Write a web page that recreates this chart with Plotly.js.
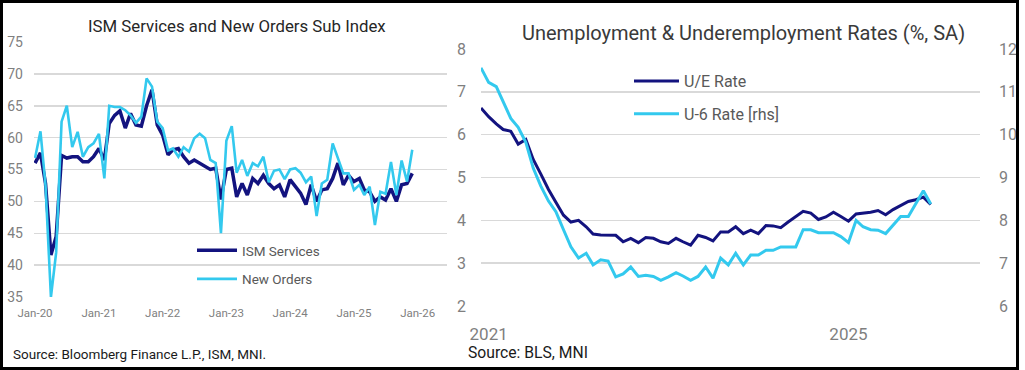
<!DOCTYPE html>
<html><head><meta charset="utf-8">
<script src="https://cdn.plot.ly/plotly-3.0.1.min.js"></script>
<style>html,body{margin:0;padding:0;background:#fff;}#chart{width:1025px;height:370px;}</style>
</head><body><div id="chart"></div>
<script>
// ---------- Left panel: ISM Services and New Orders (monthly, Jan-2020 .. Dec-2025)
const ismStart = '2020-01';
const ismServices = [
  56.0, 57.6, 52.8, 41.6, 44.5, 57.2, 56.8, 57.0, 57.0, 56.2, 56.2, 57.0,
  58.3, 56.5, 62.2, 63.5, 64.2, 61.5, 63.8, 62.0, 61.8, 65.0, 67.5, 62.0,
  60.4, 57.3, 58.1, 58.3, 57.0, 56.0, 56.5, 56.0, 55.5, 55.0, 55.2, 50.3,
  55.0, 55.2, 50.7, 52.8, 51.0, 53.6, 52.8, 54.1, 52.8, 52.0, 52.6, 50.7,
  53.4, 52.3, 51.3, 49.5, 52.6, 50.0, 51.8, 52.0, 53.6, 56.0, 52.6, 54.1,
  53.1, 53.6, 51.8, 51.5, 50.0, 50.7, 50.2, 52.0, 50.0, 52.6, 52.8, 54.4
];
const newOrders = [
  56.8, 61.0, 52.5, 35.0, 42.0, 62.5, 65.0, 58.5, 60.9, 57.0, 58.5, 59.1,
  60.6, 53.6, 65.0, 64.8, 64.8, 64.3, 63.5, 62.3, 63.3, 69.3, 68.0, 62.5,
  61.5, 58.0, 58.3, 57.0, 58.5, 57.8, 59.9, 60.6, 59.9, 56.5, 56.0, 45.0,
  59.5, 61.8, 54.5, 56.5, 54.0, 56.0, 55.5, 57.0, 53.0, 54.8, 55.0, 53.5,
  55.0, 55.2, 54.5, 53.0, 53.9, 47.7, 52.8, 53.4, 59.1, 56.8, 54.4, 54.4,
  51.8, 52.6, 51.0, 52.3, 46.3, 51.5, 51.2, 56.2, 51.0, 56.4, 53.1, 58.1
];
const ismTickVals = ['2020-01-01','2021-01-01','2022-01-01','2023-01-01','2024-01-01','2025-01-01','2026-01-01'];
const ismTickText = ['Jan-20','Jan-21','Jan-22','Jan-23','Jan-24','Jan-25','Jan-26'];

// ---------- Right panel: Unemployment & U-6 (monthly, Dec-2020 .. Dec-2025)
const unempStart = '2020-12';
const ueRate = [
  6.62, 6.42, 6.25, 6.12, 6.08, 5.78, 5.89, 5.42, 5.08, 4.72, 4.42, 4.12, 3.96,
  4.00, 3.85, 3.68, 3.66, 3.65, 3.65, 3.50, 3.58, 3.48, 3.60, 3.58, 3.50,
  3.46, 3.58, 3.50, 3.42, 3.65, 3.60, 3.52, 3.73, 3.73, 3.85, 3.69, 3.77,
  3.69, 3.88, 3.87, 3.83, 3.96, 4.08, 4.21, 4.17, 4.02, 4.08, 4.19, 4.09,
  3.98, 4.15, 4.17, 4.19, 4.23, 4.13, 4.25, 4.35, 4.44, 4.48, 4.54, 4.37
];
const u6Rate = [
  11.56, 11.22, 11.12, 10.78, 10.38, 10.17, 9.82, 9.22, 8.80, 8.45, 8.20, 7.78, 7.38,
  7.12, 7.23, 6.96, 7.08, 7.05, 6.68, 6.75, 6.91, 6.69, 6.72, 6.69, 6.60,
  6.68, 6.78, 6.70, 6.60, 6.69, 6.91, 6.65, 7.12, 6.96, 7.23, 6.96, 7.19,
  7.19, 7.30, 7.30, 7.38, 7.38, 7.38, 7.78, 7.78, 7.71, 7.71, 7.71, 7.62,
  7.48, 8.00, 7.85, 7.78, 7.77, 7.69, 7.88, 8.09, 8.09, 8.38, 8.69, 8.38
];
const unempTickVals = ['2021-01-01','2025-01-01'];
const unempTickText = ['2021','2025'];

function monthSeq(start, n) {
  const [y, m] = start.split('-').map(Number);
  const out = [];
  for (let i = 0; i < n; i++) {
    const t = (m - 1) + i;
    out.push((y + Math.floor(t / 12)) + '-' + String(t % 12 + 1).padStart(2, '0') + '-01');
  }
  return out;
}

const W = 1025, H = 370;
const fx = p => p / W;
const fy = p => 1 - p / H;
const DARK = '#13137f', LIGHT = '#33c9ee';
const FONT = 'Roboto, "Liberation Sans", sans-serif';

const ismDates = monthSeq(ismStart, ismServices.length);
const unDates = monthSeq(unempStart, ueRate.length);

const traces = [
  {x: ismDates, y: ismServices, name: 'ISM Services', type: 'scatter', mode: 'lines',
   line: {color: DARK, width: 3.5}, xaxis: 'x', yaxis: 'y', legend: 'legend', legendgroup: 'a'},
  {x: ismDates, y: newOrders, name: 'New Orders', type: 'scatter', mode: 'lines',
   line: {color: LIGHT, width: 2.6}, xaxis: 'x', yaxis: 'y', legend: 'legend', legendgroup: 'b'},
  {x: unDates, y: ueRate, name: 'U/E Rate', type: 'scatter', mode: 'lines',
   line: {color: DARK, width: 3}, xaxis: 'x2', yaxis: 'y2', legend: 'legend2', legendgroup: 'c'},
  {x: unDates, y: u6Rate, name: 'U-6 Rate [rhs]', type: 'scatter', mode: 'lines',
   line: {color: LIGHT, width: 3}, xaxis: 'x2', yaxis: 'y3', legend: 'legend2', legendgroup: 'd'}
];

const grid = {showgrid: true, gridcolor: '#d9d9d9', gridwidth: 1.5, zeroline: false, showline: false, ticks: '', fixedrange: true};
const xbase = {type: 'date', showgrid: false, zeroline: false, showline: false, ticks: '', fixedrange: true, tickmode: 'array'};

const layout = {
  width: W, height: H,
  margin: {l: 0, r: 0, t: 0, b: 0},
  paper_bgcolor: '#ffffff', plot_bgcolor: 'rgba(0,0,0,0)',
  font: {family: FONT, color: '#7f7f7f'},
  showlegend: true,
  xaxis: Object.assign({}, xbase, {domain: [fx(34), fx(447)], anchor: 'y',
    range: ['2019-12-26', '2026-06-18'], tickvals: ismTickVals, ticktext: ismTickText,
    tickfont: {size: 11.5, color: '#808080'}, ticklabelstandoff: 7}),
  yaxis: Object.assign({}, grid, {domain: [fy(297), fy(42)], anchor: 'x', range: [35, 75],
    tick0: 35, dtick: 5, tickfont: {size: 14, color: '#7f7f7f'}, ticklabelstandoff: 10}),
  xaxis2: Object.assign({}, xbase, {domain: [fx(481), fx(980)], anchor: 'y2',
    range: ['2020-12-01', '2026-06-19'], tickvals: unempTickVals, ticktext: unempTickText,
    tickfont: {size: 17, color: '#7f7f7f'}, ticklabelstandoff: 16}),
  yaxis2: Object.assign({}, grid, {domain: [fy(306), fy(49)], anchor: 'x2', range: [2, 8],
    tick0: 2, dtick: 1, tickfont: {size: 16, color: '#7f7f7f'}, ticklabelstandoff: 14}),
  yaxis3: Object.assign({}, grid, {overlaying: 'y2', side: 'right', anchor: 'x2', range: [6, 12],
    tick0: 6, dtick: 1, showgrid: false, tickfont: {size: 16, color: '#7f7f7f'}, ticklabelstandoff: 18}),
  legend: {x: fx(192), y: fy(235), xanchor: 'left', yanchor: 'top', bgcolor: 'rgba(0,0,0,0)',
    font: {size: 13.5, color: '#595959', family: FONT}, traceorder: 'grouped', tracegroupgap: 8, itemwidth: 40},
  legend2: {x: fx(629), y: fy(64), xanchor: 'left', yanchor: 'top', bgcolor: 'rgba(0,0,0,0)',
    font: {size: 16, color: '#595959', family: FONT}, traceorder: 'grouped', tracegroupgap: 9, itemwidth: 45},
  annotations: [
    {text: 'ISM Services and New Orders Sub Index', xref: 'paper', yref: 'paper', x: fx(237), y: fy(26),
     xanchor: 'center', yanchor: 'middle', showarrow: false, font: {size: 16.8, color: '#262626', family: FONT}},
    {text: 'Unemployment &amp; Underemployment Rates (%, SA)', xref: 'paper', yref: 'paper', x: fx(743), y: fy(33),
     xanchor: 'center', yanchor: 'middle', showarrow: false, font: {size: 20, color: '#3a3a3a', family: FONT}},
    {text: 'Source: Bloomberg Finance L.P., ISM, MNI.', xref: 'paper', yref: 'paper', x: fx(11), y: fy(354),
     xanchor: 'left', yanchor: 'middle', showarrow: false, font: {size: 13.5, color: '#1a1a1a', family: FONT}},
    {text: 'Source: BLS, MNI', xref: 'paper', yref: 'paper', x: fx(466), y: fy(352),
     xanchor: 'left', yanchor: 'middle', showarrow: false, font: {size: 15.7, color: '#1a1a1a', family: FONT}}
  ],
  shapes: [
    {type: 'rect', xref: 'paper', yref: 'paper', x0: fx(1.5), x1: fx(1017.5), y0: fy(368.5), y1: fy(1.5),
     line: {color: '#000000', width: 3}, fillcolor: 'rgba(0,0,0,0)', layer: 'above'}
  ]
};

Plotly.newPlot('chart', traces, layout, {displayModeBar: false, staticPlot: true});
</script>
</body></html>
